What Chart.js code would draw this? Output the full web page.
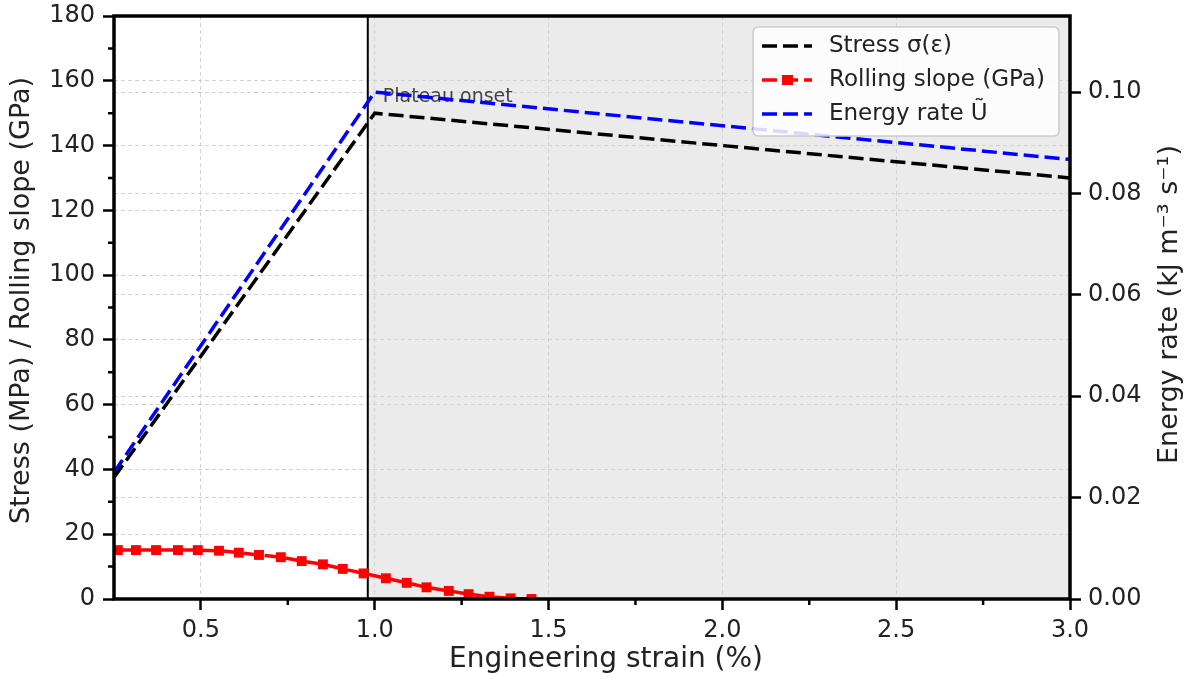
<!DOCTYPE html>
<html>
<head>
<meta charset="utf-8">
<script src="https://cdn.jsdelivr.net/npm/chart.js@4.4.1/dist/chart.umd.min.js"></script>
<style>
  html, body { margin: 0; background: #fff; }
  #wrap { width: 1196px; height: 679px; position: relative; }
</style>
</head>
<body>
<div id="wrap"><canvas id="c"></canvas></div>
<script>
// ---- data ----
const curveStrain = [0.25, 1.0, 3.0];          // %
const stressMPa   = [37.5, 150, 130];
const energyRate  = [0.025, 0.100, 0.0867];     // kJ m-3 s-1

const slopeStrain = [0.261, 0.313, 0.371, 0.434, 0.491, 0.552, 0.609, 0.667, 0.730, 0.790,
                     0.851, 0.908, 0.968, 1.032, 1.092, 1.149, 1.213, 1.270, 1.330, 1.391, 1.451];
const slopeGPa    = [15.1, 15.1, 15.1, 15.1, 15.1, 14.9, 14.3, 13.6, 12.9, 11.7,
                     10.7, 9.3, 7.9, 6.4, 5.0, 3.6, 2.5, 1.5, 0.7, 0.2, 0.0];

const xTicks  = [0.5, 1.0, 1.5, 2.0, 2.5, 3.0];
const xMinor  = [0.75, 1.25, 1.75, 2.25, 2.75];
const yTicks  = [0, 20, 40, 60, 80, 100, 120, 140, 160, 180];
const yMinor  = [10, 30, 50, 70, 90, 110, 130, 150, 170];
const y2Ticks = [0, 0.02, 0.04, 0.06, 0.08, 0.10];

const plateauOnset = 0.98;
const plateauLabelY = 155;

const legendItems = [
  { text: 'Stress σ(ε)',          color: '#000000', marker: false },
  { text: 'Rolling slope (GPa)',  color: '#ff0000', marker: true },
  { text: 'Energy rate Ũ',        color: '#0000ff', marker: false },
];

const FONT = 'DejaVu Sans';
const DASH = [15, 6];
const TOP = 16;

const pts = (xs, ys) => xs.map((x, i) => ({ x, y: ys[i] }));

// keep the plot box where the reference has it
const pinPadding = s => { s.paddingTop = TOP; s.paddingBottom = 0; s.paddingLeft = 0; s.paddingRight = 0; };

// shading, onset line, frame, minor ticks, titles, legend
const decor = {
  id: 'decor',
  beforeDraw(chart) {
    const { ctx, chartArea: a, scales: { x } } = chart;
    const px = x.getPixelForValue(plateauOnset);
    ctx.save();
    ctx.fillStyle = '#ebebeb';
    ctx.fillRect(px, a.top, a.right - px, a.bottom - a.top);
    ctx.restore();
  },
  beforeDatasetsDraw(chart) {
    const { ctx, chartArea: a, scales: { x, y } } = chart;
    const px = x.getPixelForValue(plateauOnset);
    ctx.save();
    ctx.strokeStyle = '#000';
    ctx.lineWidth = 2;
    ctx.beginPath(); ctx.moveTo(px, a.top); ctx.lineTo(px, a.bottom); ctx.stroke();
    ctx.fillStyle = '#444';
    ctx.font = `19px ${FONT}`;
    ctx.textBaseline = 'middle';
    ctx.fillText('Plateau onset', px + 15, y.getPixelForValue(plateauLabelY));
    ctx.restore();
  },
  afterDraw(chart) {
    const { ctx, chartArea: a, scales: { x, y } } = chart;
    ctx.save();
    ctx.strokeStyle = '#000';
    ctx.lineWidth = 3.5;
    ctx.strokeRect(a.left, a.top, a.right - a.left, a.bottom - a.top);

    // minor ticks
    ctx.lineWidth = 2.5;
    ctx.beginPath();
    yMinor.forEach(v => { const p = y.getPixelForValue(v); ctx.moveTo(a.left, p); ctx.lineTo(a.left - 6, p); });
    xMinor.forEach(v => { const p = x.getPixelForValue(v); ctx.moveTo(p, a.bottom); ctx.lineTo(p, a.bottom + 6); });
    ctx.stroke();

    // axis titles
    ctx.fillStyle = '#222';
    ctx.textAlign = 'center';
    ctx.textBaseline = 'middle';
    ctx.font = `28px ${FONT}`;
    ctx.fillText('Engineering strain (%)', 606, 660);
    const cy = (a.top + a.bottom) / 2;
    ctx.font = `27px ${FONT}`;
    ctx.save();
    ctx.translate(22, cy - 7); ctx.rotate(-Math.PI / 2);
    ctx.fillText('Stress (MPa) / Rolling slope (GPa)', 0, 0);
    ctx.restore();
    ctx.save();
    ctx.translate(1170, cy - 3); ctx.rotate(-Math.PI / 2);
    ctx.fillText('Energy rate (kJ m⁻³ s⁻¹)', 0, 0);
    ctx.restore();

    // legend
    const bx = 753, by = 27, bw = 306, bh = 109;
    ctx.beginPath();
    ctx.roundRect(bx, by, bw, bh, 5);
    ctx.fillStyle = 'rgba(255,255,255,0.85)';
    ctx.fill();
    ctx.strokeStyle = '#cccccc';
    ctx.lineWidth = 1.5;
    ctx.stroke();
    ctx.font = `23px ${FONT}`;
    ctx.textAlign = 'left';
    legendItems.forEach((it, i) => {
      const ly = 46 + i * 34;
      ctx.strokeStyle = it.color;
      ctx.lineWidth = 3.5;
      ctx.setLineDash(DASH);
      ctx.beginPath(); ctx.moveTo(762, ly); ctx.lineTo(812, ly); ctx.stroke();
      ctx.setLineDash([]);
      if (it.marker) { ctx.fillStyle = it.color; ctx.fillRect(782, ly - 5, 11, 10); }
      ctx.fillStyle = '#222';
      ctx.fillText(it.text, 829, ly);
    });
    ctx.restore();
  }
};

const tickFont = { family: FONT, size: 24 };
const gridCommon = { color: '#d2d2d2', lineWidth: 1, tickLength: 11, tickColor: '#000', tickWidth: 2.5, tickBorderDash: [] };

new Chart(document.getElementById('c'), {
  type: 'line',
  data: {
    datasets: [
      {
        label: 'Stress σ(ε)', data: pts(curveStrain, stressMPa), yAxisID: 'y',
        borderColor: '#000', borderWidth: 3.5, borderDash: DASH, pointRadius: 0, tension: 0, fill: false
      },
      {
        label: 'Rolling slope (GPa)', data: pts(slopeStrain, slopeGPa), yAxisID: 'y',
        borderColor: '#ff0000', backgroundColor: '#ff0000', borderWidth: 3.5, borderDash: DASH,
        pointStyle: 'rect', pointRadius: 7, pointBorderWidth: 0, pointBackgroundColor: '#ff0000', tension: 0, fill: false
      },
      {
        label: 'Energy rate Ũ', data: pts(curveStrain, energyRate), yAxisID: 'y1',
        borderColor: '#0000ff', borderWidth: 3.5, borderDash: DASH, pointRadius: 0, tension: 0, fill: false
      }
    ]
  },
  options: {
    responsive: true,
    maintainAspectRatio: false,
    animation: false,
    layout: { padding: { top: TOP, left: 0, right: 0, bottom: 0 } },
    plugins: { legend: { display: false }, tooltip: { enabled: false } },
    scales: {
      x: {
        type: 'linear', min: 0.25, max: 3.0,
        afterBuildTicks: s => { s.ticks = xTicks.map(v => ({ value: v })); },
        afterFit: s => { s.height = 80; pinPadding(s); },
        ticks: { font: tickFont, color: '#222', padding: 6, maxRotation: 0, autoSkip: false, callback: v => v.toFixed(1) },
        grid: gridCommon,
        border: { display: false, dash: [4, 3] }
      },
      y: {
        type: 'linear', position: 'left', min: 0, max: 180,
        afterBuildTicks: s => { s.ticks = yTicks.map(v => ({ value: v })); },
        afterFit: s => { s.width = 114; pinPadding(s); },
        ticks: { font: tickFont, color: '#222', padding: 8, autoSkip: false, callback: v => String(v) },
        grid: gridCommon,
        border: { display: false, dash: [4, 3] }
      },
      y1: {
        type: 'linear', position: 'right', min: 0, max: 0.115,
        afterBuildTicks: s => { s.ticks = y2Ticks.map(v => ({ value: v })); },
        afterFit: s => { s.width = 126; pinPadding(s); },
        ticks: { font: tickFont, color: '#222', padding: 7, autoSkip: false, callback: v => v.toFixed(2) },
        grid: gridCommon,
        border: { display: false, dash: [4, 3] }
      }
    }
  },
  plugins: [decor]
});
</script>
</body>
</html>
